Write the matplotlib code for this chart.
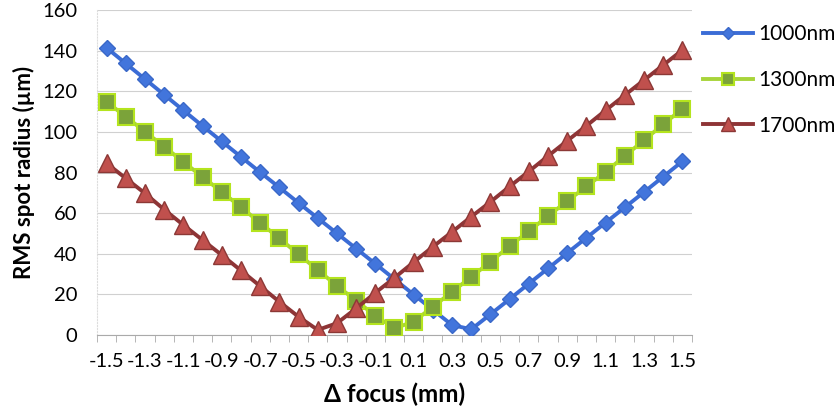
import numpy as np
import matplotlib.pyplot as plt

plt.rcParams['font.family'] = ['Lato', 'DejaVu Sans']

focus = [-1.5, -1.4, -1.3, -1.2, -1.1, -1.0, -0.9, -0.8, -0.7, -0.6, -0.5,
         -0.4, -0.3, -0.2, -0.1, 0.0, 0.1, 0.2, 0.3, 0.4, 0.5, 0.6, 0.7,
         0.8, 0.9, 1.0, 1.1, 1.2, 1.3, 1.4, 1.5]

r1000 = [141.5, 133.8, 126.1, 118.4, 110.7, 103.0, 95.4, 87.8, 80.2, 72.7,
         65.1, 57.6, 50.1, 42.6, 35.1, 27.5, 19.9, 12.4, 4.9, 2.8, 10.2,
         17.7, 25.3, 32.8, 40.4, 47.9, 55.4, 62.9, 70.4, 78.0, 85.6]

r1300 = [114.9, 107.6, 100.2, 92.8, 85.3, 77.9, 70.5, 63.0, 55.3, 47.6,
         39.8, 32.0, 24.3, 16.9, 9.5, 3.3, 6.6, 13.9, 21.3, 28.6, 36.1,
         43.8, 51.2, 58.6, 66.0, 73.2, 80.4, 88.2, 96.0, 103.8, 111.5]

r1700 = [84.6, 77.2, 69.8, 61.8, 54.2, 46.8, 39.4, 31.8, 24.1, 16.4, 9.0,
         2.5, 5.8, 13.1, 20.8, 28.2, 35.9, 43.5, 50.8, 58.3, 65.6, 73.2,
         80.6, 88.2, 95.7, 103.1, 110.7, 118.2, 125.6, 133.0, 140.4]

labels = ['1000nm', '1300nm', '1700nm']

fig = plt.figure(figsize=(8.35, 4.16), dpi=100)
ax = fig.add_axes([97 / 835, 1 - 335 / 416, 595 / 835, 324.7 / 416])

x = np.arange(len(focus))
ax.plot(x, r1000, color='#3b6cd6', lw=2.8, marker='D', ms=8,
        mfc='#4275dc', mec='#3a68c8', label=labels[0], zorder=3)
ax.plot(x, r1300, color='#a8d43a', lw=2.8, marker='s', ms=11.5,
        mfc='#7ba33a', mec='#b4e41e', mew=1.5, label=labels[1], zorder=3)
ax.plot(x, r1700, color='#8e3436', lw=2.8, marker='^', ms=12.5,
        mfc='#c0504d', mec='#8c3836', label=labels[2], zorder=4)

ax.set_xlim(-0.5, len(focus) - 0.5)
ax.set_ylim(0, 160)
ax.set_yticks(np.arange(0, 161, 20))
ax.set_xticks(x[::2])
ax.set_xticklabels(['{:.1f}'.format(v) for v in focus[::2]])
ax.set_xticks(np.arange(-0.5, len(focus), 1), minor=True)
ax.tick_params(axis='x', which='minor', length=5, color='#aaaaaa', direction='out')
ax.tick_params(axis='x', which='major', length=0, pad=13, labelsize=14.5)
ax.tick_params(axis='y', length=0, pad=14, labelsize=14.5)

ax.grid(axis='y', color='#d0d0d0', lw=0.8)
ax.set_axisbelow(True)
for s in ['top', 'right']:
    ax.spines[s].set_visible(False)
ax.spines['left'].set_color('#dddddd')
ax.spines['left'].set_linestyle(':')
ax.spines['bottom'].set_color('#aaaaaa')

ax.set_xlabel('Δ focus (mm)', fontsize=17.5, fontweight='bold', labelpad=9)
ax.set_ylabel('RMS spot radius (µm)', fontsize=16, fontweight='bold', labelpad=5)

fig.legend(loc='upper left', bbox_to_anchor=(703 / 835, 1 - 24 / 416),
           frameon=False, fontsize=15, handlelength=2.4, markerscale=0.75,
           labelspacing=1.24, handletextpad=0.25, borderaxespad=0, borderpad=0)

plt.savefig('out.png', dpi=100)
